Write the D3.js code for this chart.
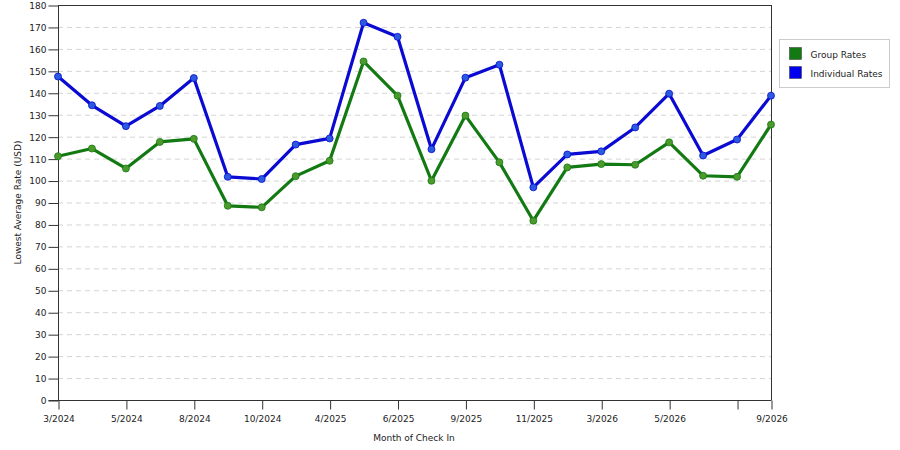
<!DOCTYPE html>
<meta charset="utf-8">
<html>
<head>
  <title>Lowest Average Rate</title>
  <script src="https://d3js.org/d3.v7.min.js"></script>
</head>
<style>
  body { margin: 0; background: #fff; }
  svg { display: block; }
  text { font-family: 'DejaVu Sans', Verdana, sans-serif; fill: #222; }
</style>
<body>
<script>

// one point per month column, labels only where the original shows them
var tickLabels = ["3/2024", null, "5/2024", null, "8/2024", null, "10/2024", null,
                  "4/2025", null, "6/2025", null, "9/2025", null, "11/2025", null,
                  "3/2026", null, "5/2026", null, "", "9/2026"];

var groupRates = [111.1, 114.6, 105.5, 117.6, 119.0, 88.5, 87.8, 102.0, 109.0, 154.3, 138.7,
                  99.9, 129.6, 108.3, 81.7, 106.0, 107.5, 107.2, 117.4, 102.2, 101.7, 125.5];

var individualRates = [147.4, 134.3, 124.8, 134.0, 146.7, 101.7, 100.7, 116.4, 119.2, 171.9, 165.5,
                       114.3, 146.9, 152.8, 96.9, 111.9, 113.3, 124.2, 139.6, 111.4, 118.7, 138.7];

var yTicks = d3.range(0, 181, 10);

var series = [
  {name: "Group Rates", values: groupRates, line: "#137a13", dot: "#4c9a2c", swatch: "#137a13"},
  {name: "Individual Rates", values: individualRates, line: "#0a0ad2", dot: "#2a5ae0", swatch: "#0000ee"}
];

var width = 900, height = 450;
// plot box (names avoid window.top etc.)
var pLeft = 58, pRight = 771, pTop = 5, pBottom = 400;

var svg = d3.select("body").append("svg")
    .attr("width", width)
    .attr("height", height);

var x = d3.scaleLinear().domain([0, tickLabels.length - 1]).range([pLeft, pRight]);
var y = d3.scaleLinear().domain([0, 180]).range([pBottom, pTop]);

// grid
svg.append("g")
  .selectAll("line")
  .data(yTicks.filter(function(d) { return d > 0 && d < 180; }))
  .enter().append("line")
    .attr("x1", pLeft).attr("x2", pRight)
    .attr("y1", function(d) { return y(d) + 0.5; })
    .attr("y2", function(d) { return y(d) + 0.5; })
    .attr("stroke", "#d4d4d4")
    .attr("stroke-dasharray", "5,4");

// frame top / right
svg.append("line").attr("x1", pLeft).attr("x2", pRight + 0.5)
  .attr("y1", pTop + 0.5).attr("y2", pTop + 0.5).attr("stroke", "#333");
svg.append("line").attr("x1", pRight + 0.5).attr("x2", pRight + 0.5)
  .attr("y1", pTop).attr("y2", pBottom).attr("stroke", "#333");

// y axis
var yAxis = d3.axisLeft(y).tickValues(yTicks).tickSize(10).tickPadding(2);
var yg = svg.append("g").attr("transform", "translate(" + (pLeft + 0.5) + ",0.5)").call(yAxis);
yg.select(".domain").attr("stroke", "#333").attr("d", "M0," + (pTop - 0.5) + "V" + pBottom);
yg.selectAll(".tick line").attr("stroke", "#333");
yg.selectAll(".tick text").attr("font-size", 9).attr("font-family", "'DejaVu Sans', sans-serif").attr("fill", "#222");

// x axis
var tickIdx = d3.range(tickLabels.length).filter(function(i) { return tickLabels[i] !== null; });
var xAxis = d3.axisBottom(x).tickValues(tickIdx)
    .tickFormat(function(i) { return tickLabels[i]; })
    .tickSize(9).tickPadding(6);
var xg = svg.append("g").attr("transform", "translate(0.5," + (pBottom + 0.5) + ")").call(xAxis);
xg.select(".domain").attr("stroke", "#333").attr("d", "M" + (pLeft - 10) + ",0H" + pRight);
xg.selectAll(".tick line").attr("stroke", "#333");
xg.selectAll(".tick text").attr("font-size", 9).attr("font-family", "'DejaVu Sans', sans-serif").attr("fill", "#222");

// axis titles
svg.append("text")
  .attr("x", 414).attr("y", 441)
  .attr("text-anchor", "middle")
  .attr("font-size", 9)
  .text("Month of Check In");

svg.append("text")
  .attr("transform", "translate(21," + ((pTop + pBottom) / 2) + ") rotate(-90)")
  .attr("text-anchor", "middle")
  .attr("font-size", 9)
  .text("Lowest Average Rate (USD)");

// lines and dots
var line = d3.line()
    .x(function(d, i) { return x(i); })
    .y(function(d) { return y(d); });

series.forEach(function(s) {
  svg.append("path")
    .datum(s.values)
    .attr("fill", "none")
    .attr("stroke", s.line)
    .attr("stroke-width", 3.2)
    .attr("stroke-linejoin", "round")
    .attr("d", line);

  svg.append("g").selectAll("circle")
    .data(s.values)
    .enter().append("circle")
      .attr("cx", function(d, i) { return x(i); })
      .attr("cy", function(d) { return y(d); })
      .attr("r", 3.5)
      .attr("fill", s.dot)
      .attr("stroke", s.line)
      .attr("stroke-width", 0.8);
});

// legend
var legend = svg.append("g").attr("transform", "translate(779.5,39.5)");
legend.append("rect")
  .attr("width", 110).attr("height", 48)
  .attr("fill", "#fff").attr("stroke", "#ccc");

legend.selectAll("g.item")
  .data(series)
  .enter().append("g")
    .attr("class", "item")
    .attr("transform", function(d, i) { return "translate(10," + (8 + i * 19) + ")"; })
    .each(function(d) {
      var g = d3.select(this);
      g.append("rect").attr("width", 12).attr("height", 12)
        .attr("fill", d.swatch).attr("stroke", "#333").attr("stroke-width", 0.5);
      g.append("text").attr("x", 21).attr("y", 10).attr("font-size", 9).text(d.name);
    });

</script>
</body>
</html>
